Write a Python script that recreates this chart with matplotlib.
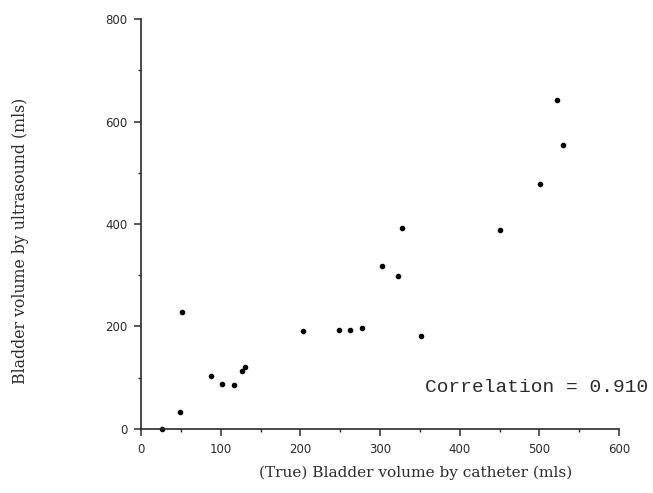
import matplotlib.pyplot as plt
from matplotlib.ticker import MultipleLocator

# catheter (true) volume vs ultrasound estimate, mls
catheter = [26, 49, 52, 88, 102, 117, 127, 131, 203, 248, 262, 277,
            303, 323, 328, 352, 451, 501, 522, 530]
ultrasound = [0, 33, 228, 104, 88, 85, 114, 120, 191, 194, 194, 197,
              318, 298, 392, 182, 389, 478, 643, 554]
correlation = 0.910

INK = "#2b2b2b"

fig = plt.figure(figsize=(6.53, 4.93), dpi=100)
ax = fig.add_axes([0.216, 0.130, 0.732, 0.831])

ax.plot(catheter, ultrasound, "o", color="black", markersize=3.0, clip_on=False)

ax.set_xlim(0, 600)
ax.set_ylim(0, 800)
ax.xaxis.set_major_locator(MultipleLocator(100))
ax.xaxis.set_minor_locator(MultipleLocator(50))
ax.yaxis.set_major_locator(MultipleLocator(200))
ax.yaxis.set_minor_locator(MultipleLocator(100))

for side in ("top", "right"):
    ax.spines[side].set_visible(False)
for side in ("left", "bottom"):
    ax.spines[side].set_linewidth(1.2)
    ax.spines[side].set_color(INK)

ax.tick_params(which="major", direction="out", length=5, width=1.1,
               colors=INK, labelsize=8.5, pad=5)
ax.tick_params(which="minor", direction="out", length=2.5, width=1.0, colors=INK)

ax.set_xlabel("(True) Bladder volume by catheter (mls)", family="DejaVu Serif",
              fontsize=11.1, color=INK, va="center")
ax.set_ylabel("Bladder volume by ultrasound (mls)", family="DejaVu Serif",
              fontsize=11.3, color=INK, va="center")
ax.xaxis.set_label_coords(0.574, -0.107)
ax.yaxis.set_label_coords(-0.253, 0.46)

ax.text(356, 80, f"Correlation = {correlation:.3f}", family="Liberation Mono",
        fontsize=14, color=INK, va="center", ha="left")

fig.savefig("out.png", dpi=100)
